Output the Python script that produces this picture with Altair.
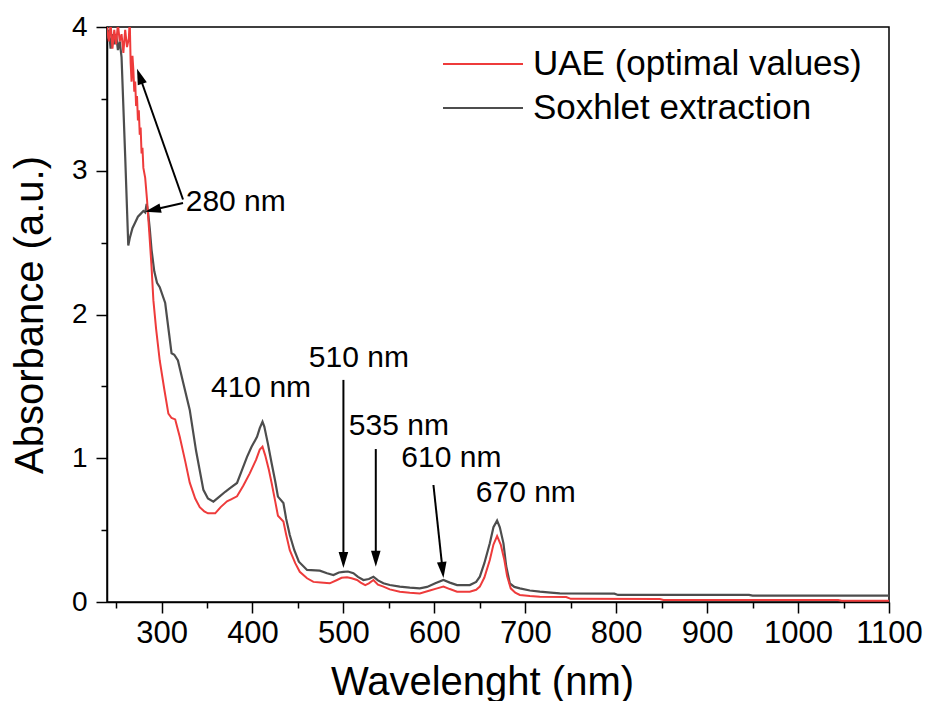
import math
import altair as alt
import pandas as pd

FONT = "Liberation Sans"
SERIES = ["UAE (optimal values)", "Soxhlet extraction"]
COLORS = ["#EE3B3B", "#4D4D4D"]

# UAE (red) spectrum
UAE_NM = [240, 242, 244, 246, 248, 250, 252, 254, 256, 258, 260, 262, 264, 265, 266, 267, 268, 269, 270, 271,
          272, 273, 274, 275, 276, 277, 278, 279, 280, 282, 284, 286.5, 289, 291, 294, 298, 303, 307.5, 311, 315,
          320, 326, 331, 337, 342, 347, 351, 359, 365, 372, 377, 383, 390, 397, 404, 408, 411, 414, 418, 421,
          425, 428, 434, 437, 441, 447, 452, 460, 467, 475, 485, 493, 498, 504, 509, 515, 519, 524, 528, 533,
          538, 544, 551, 562, 573, 584, 595, 603, 610, 617, 625, 639, 646, 650, 655, 661, 665, 669, 673, 677,
          680, 684, 689, 694, 705, 716, 745, 750, 848, 852, 1044, 1048, 1100]
UAE_ABS = [4.0, 3.9, 4.02, 3.85, 3.98, 3.88, 4.02, 3.9, 3.95, 3.82, 3.98, 3.86, 3.92, 4.05, 3.75, 3.62, 3.80, 3.70, 3.55, 3.62,
           3.45, 3.52, 3.35, 3.42, 3.25, 3.30, 3.12, 3.16, 3.02, 2.95, 2.80, 2.57, 2.33, 2.10, 1.90, 1.68, 1.48, 1.31, 1.28, 1.27,
           1.15, 0.98, 0.83, 0.72, 0.66, 0.63, 0.617, 0.617, 0.66, 0.70, 0.715, 0.735, 0.81, 0.895, 0.99, 1.06, 1.08, 1.02, 0.92, 0.83,
           0.70, 0.60, 0.56, 0.47, 0.36, 0.27, 0.21, 0.165, 0.14, 0.135, 0.13, 0.153, 0.168, 0.172, 0.165, 0.153, 0.135, 0.118, 0.13, 0.153,
           0.12, 0.107, 0.088, 0.072, 0.065, 0.06, 0.08, 0.095, 0.107, 0.09, 0.072, 0.072, 0.085, 0.107, 0.17, 0.292, 0.40, 0.459, 0.40, 0.292,
           0.18, 0.095, 0.065, 0.049, 0.042, 0.037, 0.035, 0.022, 0.021, 0.014, 0.014, 0.009, 0.009]

# Soxhlet (grey) spectrum
SOX_NM = [240, 242, 244, 246, 248, 250, 252, 254, 256, 260, 263.4, 265, 268, 271, 274, 277, 280, 282,
          283.6, 285, 287, 289, 292, 295, 298, 304, 308, 311, 314, 318, 324, 331, 338, 346, 351, 357, 363, 370,
          376, 383, 388, 394, 399, 405, 408, 411, 413, 417, 421, 425, 428, 434, 437, 441, 446, 451, 460, 474,
          482, 489, 495, 500, 505, 511, 516, 522, 528, 533, 538, 544, 551, 562, 573, 584, 592, 601, 610, 617,
          625, 639, 646, 650, 655, 661, 665, 669, 672, 676, 679, 683, 688, 694, 705, 716, 728, 738, 798, 802,
          946, 950, 1100]
SOX_ABS = [3.92, 3.98, 3.85, 3.95, 3.88, 3.95, 3.84, 3.90, 3.79, 3.10, 2.48, 2.53, 2.60, 2.64, 2.68, 2.70, 2.72, 2.71,
           2.77, 2.72, 2.60, 2.45, 2.30, 2.22, 2.19, 2.08, 1.88, 1.73, 1.72, 1.68, 1.52, 1.336, 1.05, 0.78, 0.72, 0.698, 0.73, 0.767,
           0.795, 0.828, 0.91, 1.01, 1.08, 1.149, 1.21, 1.254, 1.22, 1.10, 0.967, 0.84, 0.733, 0.689, 0.58, 0.466, 0.36, 0.28, 0.223, 0.218,
           0.20, 0.188, 0.205, 0.21, 0.212, 0.20, 0.175, 0.153, 0.16, 0.176, 0.15, 0.13, 0.118, 0.107, 0.10, 0.095, 0.105, 0.13, 0.153, 0.135,
           0.118, 0.118, 0.14, 0.176, 0.27, 0.408, 0.52, 0.566, 0.52, 0.408, 0.25, 0.13, 0.105, 0.095, 0.08, 0.072, 0.065, 0.06, 0.058, 0.049,
           0.049, 0.044, 0.044]

# Annotation labels
ANN_TEXT = ["280 nm", "410 nm", "510 nm", "535 nm", "610 nm", "670 nm"]
ANN_X = [381.6, 409.4, 517.0, 561.0, 618.7, 700.6]
ANN_Y = [2.78, 1.49, 1.70, 1.226, 1.00, 0.758]

# Arrows (start -> tip), data units
ARR_X0 = [323.6, 323.6, 500.0, 535.6, 599.0]
ARR_Y0 = [2.80, 2.776, 1.545, 1.064, 0.814]
ARR_X1 = [273.0, 281.8, 500.0, 535.6, 610.0]
ARR_Y1 = [3.71, 2.715, 0.237, 0.245, 0.167]

X_DOMAIN = [240, 1100]
Y_DOMAIN = [0, 4]
X_MAJOR = [300, 400, 500, 600, 700, 800, 900, 1000, 1100]
X_MINOR = [250, 350, 450, 550, 650, 750, 850, 950, 1050]
Y_MAJOR = [0, 1, 2, 3, 4]
Y_MINOR = [0.5, 1.5, 2.5, 3.5]

W, H = 782, 575
PX_NM = W / (X_DOMAIN[1] - X_DOMAIN[0])
PX_AB = H / (Y_DOMAIN[1] - Y_DOMAIN[0])
HEAD_SIZE = 256
HEAD_LEN = 16

xs = alt.Scale(domain=X_DOMAIN, nice=False, zero=False)
ys = alt.Scale(domain=Y_DOMAIN, nice=False, zero=False)

uae_df = pd.DataFrame({"nm": UAE_NM, "ab": UAE_ABS})
sox_df = pd.DataFrame({"nm": SOX_NM, "ab": SOX_ABS})

ann_df = pd.DataFrame({"label": ANN_TEXT, "x": ANN_X, "y": ANN_Y})

rows = []
for x0, y0, x1, y1 in zip(ARR_X0, ARR_Y0, ARR_X1, ARR_Y1):
    dx = (x1 - x0) * PX_NM
    dy = -(y1 - y0) * PX_AB
    L = math.hypot(dx, dy)
    ang = math.degrees(math.atan2(-dx, dy)) % 360
    k = (L - HEAD_LEN * 0.6) / L
    xe = x0 + (x1 - x0) * k
    ye = y0 + (y1 - y0) * k
    rows.append({"x0": x0, "y0": y0, "xe": xe, "ye": ye, "x1": x1, "y1": y1, "ang": ang})
arr_df = pd.DataFrame(rows)

major_x = alt.Axis(values=X_MAJOR, orient="bottom", format="d", tickSize=11, tickWidth=1.5, tickColor="black",
                   domainColor="black", domainWidth=1.5, grid=False, labelFont=FONT, labelFontSize=31,
                   labelColor="black", labelPadding=5, labelFlush=False, labelOverlap=False,
                   title="Wavelenght (nm)", titleFont=FONT, titleFontSize=40, titleFontWeight="normal",
                   titleColor="black", titleX=375, titleY=92, titleAlign="center", titleBaseline="alphabetic")
major_y = alt.Axis(values=Y_MAJOR, orient="left", format="d", tickSize=11, tickWidth=1.5, tickColor="black",
                   domainColor="black", domainWidth=1.5, grid=False, labelFont=FONT, labelFontSize=28,
                   labelColor="black", labelPadding=9, labelFlush=False, labelOverlap=False,
                   title="Absorbance (a.u.)", titleFont=FONT, titleFontSize=40, titleFontWeight="normal",
                   titleColor="black", titleX=-77, titleY=H / 2, titleAngle=270, titleAlign="center",
                   titleBaseline="middle")
minor_x = alt.Axis(values=X_MINOR, orient="bottom", tickSize=6, tickWidth=1.5, tickColor="black",
                   domain=False, labels=False, grid=False, title="")
minor_y = alt.Axis(values=Y_MINOR, orient="left", tickSize=6, tickWidth=1.5, tickColor="black",
                   domain=False, labels=False, grid=False, title="")

grey = alt.Chart(sox_df).mark_line(color=COLORS[1], strokeWidth=2.2, clip=True).encode(
    x=alt.X("nm:Q", scale=xs, axis=major_x),
    y=alt.Y("ab:Q", scale=ys, axis=major_y),
)
red = alt.Chart(uae_df).mark_line(color=COLORS[0], strokeWidth=2.0, clip=True).encode(
    x=alt.X("nm:Q", scale=xs, axis=None),
    y=alt.Y("ab:Q", scale=ys, axis=None),
)
minor = alt.Chart(sox_df).mark_line(opacity=0).encode(
    x=alt.X("nm:Q", scale=xs, axis=minor_x),
    y=alt.Y("ab:Q", scale=ys, axis=minor_y),
)

texts = alt.Chart(ann_df).mark_text(font=FONT, fontSize=30, color="black", align="center", baseline="middle").encode(
    x=alt.X("x:Q", scale=xs, axis=None),
    y=alt.Y("y:Q", scale=ys, axis=None),
    text="label:N",
)
shafts = alt.Chart(arr_df).mark_rule(color="black", strokeWidth=2).encode(
    x=alt.X("x0:Q", scale=xs, axis=None),
    y=alt.Y("y0:Q", scale=ys, axis=None),
    x2="xe:Q",
    y2="ye:Q",
)
heads = alt.Chart(arr_df).mark_point(shape="M0,0L-0.6,-2L0.6,-2Z", filled=True, size=HEAD_SIZE,
                                     color="black", opacity=1, strokeWidth=0).encode(
    x=alt.X("x1:Q", scale=xs, axis=None),
    y=alt.Y("y1:Q", scale=ys, axis=None),
    angle=alt.Angle("ang:Q", scale=None),
)

one = pd.DataFrame({"k": [0]})
leg_layers = []
for i, (name, col) in enumerate(zip(SERIES, COLORS)):
    yy = 37 + 44 * i
    leg_layers.append(alt.Chart(one).mark_rule(color=col, strokeWidth=2.2).encode(
        x=alt.value(336), x2=alt.value(416), y=alt.value(yy)))
    leg_layers.append(alt.Chart(one).mark_text(font=FONT, fontSize=35, color="black", align="left",
                                               baseline="middle").encode(
        x=alt.value(426), y=alt.value(yy), text=alt.value(name)))

chart = alt.layer(grey, red, minor, shafts, heads, texts, *leg_layers).resolve_axis(
    x="independent", y="independent"
).properties(
    width=W, height=H,
    autosize=alt.AutoSizeParams(type="none"),
    padding={"left": 107, "top": 27, "right": 37, "bottom": 99},
    background="white",
).configure_view(stroke="black", strokeWidth=1.5)

chart.save("out.html", embed_options={"renderer": "svg", "actions": False})
